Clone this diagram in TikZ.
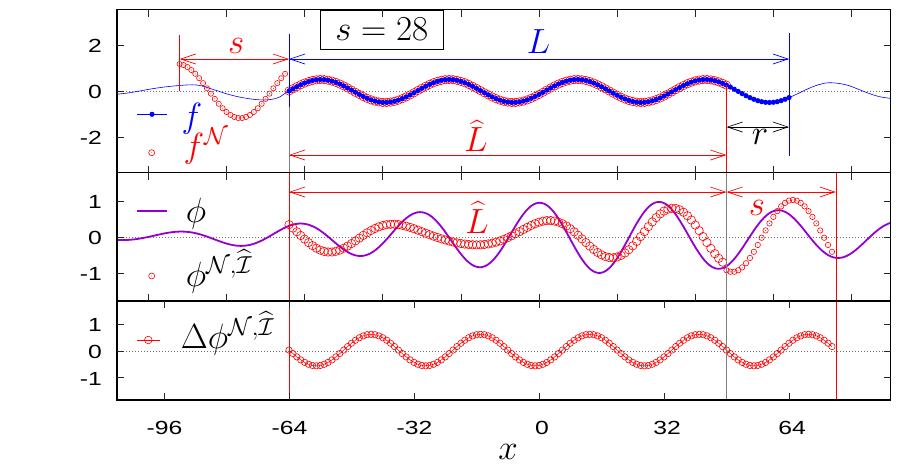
\RequirePackage{fix-cm}
\documentclass[tikz,border=0pt]{standalone}
\usepackage{exscale}
\usepackage{fontspec}
\newfontfamily\helv{Liberation Sans}
\usetikzlibrary{arrows.meta}
\definecolor{fred}{HTML}{FF0000}
\definecolor{fblue}{HTML}{0000FF}
\definecolor{fviolet}{HTML}{9400D3}
\definecolor{fgray}{HTML}{7F7F7F}
\newcommand\ticklab[1]{\scalebox{1.3}[1]{#1}}
\tikzset{
  declare function={
    fin(\x)=0.5*sin(10.97561*(\x+64));
    fnl(\x)=-1.18*cos(11.25*(\x+76.5));
    ph(\x)=exp(-((\x-18)/80)*((\x-18)/80))*cos(11.688312*\x);
    dph(\x)=0.035-0.59*sin(12.857143*(\x+64));
    phs(\x)=0.03+cos(11.612903*(\x-65));
  },
  frameline/.style={line width=1.3pt, black},
  tickline/.style={line width=0.7pt, black!85},
  zeroline/.style={line width=0.6pt, black!55, dash pattern=on 1pt off 2pt},
  dimarrow/.style={line width=0.7pt, {Straight Barb[length=15pt,width=10pt]}-{Straight Barb[length=15pt,width=10pt]}},
  vline/.style={line width=0.7pt},
  lab/.style={inner sep=0pt, anchor=base, font=\fontsize{35}{40}\selectfont},
  ticky/.style={inner sep=0pt, anchor=east, font=\helv\fontsize{19}{22}\selectfont},
  tickx/.style={inner sep=0pt, anchor=center, font=\helv\fontsize{19}{22}\selectfont},
  redcirc/.style={draw=fred, line width=0.6pt},
}
\begin{document}
\begin{tikzpicture}[x=1pt,y=-1pt]
\useasboundingbox (0,0) rectangle (900,469);
\fill[white] (0,0) rectangle (900,469);

% zero lines
\draw[zeroline] (117,91) -- (890.7,91);
\draw[zeroline] (117,237) -- (890.7,237);
\draw[zeroline] (117,351) -- (890.7,351);

% ---------- top panel data ----------
\begin{scope}[shift={(539,91)}, x=3.906pt, y=23pt]
  \draw[fblue, line width=0.6pt] plot[smooth, tension=0.6] coordinates {(-108,-0.14) (-105,-0.08) (-102.9,-0.02) (-97.8,0.13) (-92.7,0.23) (-87.6,0.26) (-83.3,0.06) (-79,-0.17) (-74.8,-0.32) (-70.5,-0.39) (-67.1,-0.31) (-65,-0.1) (-64,0)};
  \draw[fblue, line width=0.6pt] plot[domain=-64:64, samples=200] (\x,{fin(\x)});
  \draw[fblue, line width=0.6pt] plot[smooth, tension=0.6] coordinates {(64,-0.29) (66.2,-0.12) (68.5,0.07) (71.5,0.27) (74.5,0.36) (78.8,0.26) (83.9,-0.07) (87,-0.24) (90,-0.32)};
  \foreach \i in {-92,...,-65} {
    \draw[redcirc] (\i,{fnl(\i)}) circle[radius=2.6pt];
    \fill[fred] (\i,{fnl(\i)}) circle[radius=0.45pt];
  }
  \foreach \i in {-64,...,48} \draw[redcirc] (\i,{fin(\i)}) circle[radius=4.2pt];
  \foreach \i in {-64,...,64} \fill[fblue] (\i,{fin(\i)}) circle[radius=2.6pt];
  \coordinate (f48) at (48,{fin(48)});
\end{scope}

% ---------- middle panel data ----------
\begin{scope}[shift={(539,237)}, x=3.906pt, y=36pt]
  \draw[fviolet, line width=1.8pt] plot[domain=-108:90, samples=300] (\x,{ph(\x)});
  \foreach \i in {-64,...,47} \draw[redcirc] (\i,{ph(\i)+dph(\i)}) circle[radius=4.2pt];
  \foreach \i in {48,...,75} {
    \draw[redcirc] (\i,{phs(\i)}) circle[radius=2.7pt];
    \fill[fred] (\i,{phs(\i)}) circle[radius=0.45pt];
  }
\end{scope}

% ---------- bottom panel data ----------
\begin{scope}[shift={(539,351)}, x=3.906pt, y=26.7pt]
  \draw[fred, line width=0.5pt] plot[domain=-64:75, samples=200] (\x,{dph(\x)});
  \foreach \i in {-64,...,75} \draw[redcirc] (\i,{dph(\i)}) circle[radius=3.2pt];
\end{scope}

% ---------- vertical guide lines ----------
\coordinate (sLt) at (179.65,35);  \coordinate (sLb) at (179.65,91);
\coordinate (m64t) at (289,34);    \coordinate (m64m) at (289,107);
\coordinate (m64b) at (289,172.5); \coordinate (m64e) at (289,400);
\coordinate (p64t) at (789,33);    \coordinate (p64b) at (789,156);
\coordinate (p48b) at (726.5,172.5); \coordinate (p48e) at (726.5,400);
\coordinate (p76t) at (835.9,172.5); \coordinate (p76e) at (835.9,400);
\draw[vline, fred] (sLt) -- (sLb);
\draw[vline, fblue] (m64t) -- (m64m);
\draw[vline, fgray] (m64m) -- (m64b);
\draw[vline, fblue] (p64t) -- (p64b);
\draw[vline, fred] (f48) -- (p48b);
\draw[vline, fred] (m64b) -- (m64e);
\draw[vline, fgray] (p48b) -- (p48e);
\draw[vline, fred] (p76t) -- (p76e);

% ---------- dimension arrows ----------
\coordinate (sa1) at (179.65,59); \coordinate (sa2) at (289,59);
\coordinate (La2) at (789,59);
\coordinate (Lh1) at (289,155);   \coordinate (Lh2) at (726.5,155);
\coordinate (ra1) at (726.5,127); \coordinate (ra2) at (789,127);
\coordinate (Lm1) at (289,192);   \coordinate (Lm2) at (726.5,192);
\coordinate (sm2) at (835.9,192);
\draw[dimarrow, fred] (sa1) -- (sa2);
\draw[dimarrow, fblue] (sa2) -- (La2);
\draw[dimarrow, fred] (Lh1) -- (Lh2);
\draw[dimarrow, black] (ra1) -- (ra2);
\draw[dimarrow, fred] (Lm1) -- (Lm2);
\draw[dimarrow, fred] (Lm2) -- (sm2);

% ---------- labels ----------
\node[lab, text=fred] (labs1) at (236.3,53.3) {$s$};
\node[lab, text=fblue] (labL) at (538.5,53) {$L$};
\node[lab, text=fred] (labLh1) at (476,151.5) {$\widehat{L}$};
\node[lab, text=black] (labr) at (760,144.5) {$r$};
\node[lab, text=fred] (labLh2) at (477,233) {$\widehat{L}$};
\node[lab, text=fred] (labs2) at (757,215) {$s$};
\node[draw=black, line width=0.8pt, fill=white, minimum width=122.7pt, minimum height=39.5pt, inner sep=0pt, anchor=north west, font=\fontsize{35}{40}\selectfont] (sbox) at (320,9.5) {$s=28$};

% ---------- legends ----------
\coordinate (lg1a) at (137,114.3); \coordinate (lg1b) at (167,114.3);
\draw[fblue, line width=0.6pt] (lg1a) -- (lg1b);
\fill[fblue] (152,114.3) circle[radius=2.6pt];
\node[lab, text=fblue] (legf) at (192,127) {$f$};
\draw[redcirc] (151.7,152.7) circle[radius=3pt];
\fill[fred] (151.7,152.7) circle[radius=0.45pt];
\node[lab, text=fred] (legfn) at (206,157) {$f^{\mathcal{N}}$};

\coordinate (lg2a) at (137,210.7); \coordinate (lg2b) at (167,210.7);
\draw[fviolet, line width=1.8pt] (lg2a) -- (lg2b);
\node[lab] (legphi) at (196,222.3) {$\phi$};
\draw[redcirc] (151.7,276) circle[radius=3pt];
\fill[fred] (151.7,276) circle[radius=0.45pt];
\node[lab] (legphin) at (219,286) {$\phi^{\mathcal{N},\widehat{\mathcal{I}}}$};

\coordinate (lg3a) at (136.7,340); \coordinate (lg3b) at (160,340);
\draw[fred, line width=0.6pt] (lg3a) -- (lg3b);
\draw[redcirc] (148.3,340) circle[radius=3.8pt];
\node[lab] (legdphi) at (227.5,348.3) {$\Delta\phi^{\mathcal{N},\widehat{\mathcal{I}}}$};

% ---------- frames ----------
\draw[frameline] (117,9.5) rectangle (890.7,400);
\draw[frameline] (117,172.5) -- (890.7,172.5);
\draw[frameline] (117,301) -- (890.7,301);

% ---------- ticks ----------
\foreach \v in {-100,-80,...,80} {
  \draw[tickline] ({539+3.906*\v},9.5) -- ++(0,7);
  \draw[tickline] ({539+3.906*\v},172.5) -- ++(0,-7);
  \draw[tickline] ({539+3.906*\v},172.5) -- ++(0,7);
  \draw[tickline] ({539+3.906*\v},301) -- ++(0,-7);
}
\foreach \v in {-96,-64,...,64} {
  \draw[tickline] ({539+3.906*\v},301) -- ++(0,7);
  \draw[tickline] ({539+3.906*\v},400) -- ++(0,-7);
}
\foreach \py in {45,91,137,201,237,273,324.3,351,377.7} {
  \draw[tickline] (117,\py) -- ++(7,0);
  \draw[tickline] (890.7,\py) -- ++(-7,0);
}

% ---------- tick labels ----------
\node[ticky] (ty1) at (102,46) {\ticklab{2}};
\node[ticky] (ty2) at (102,92) {\ticklab{0}};
\node[ticky] (ty3) at (102,138) {\ticklab{-2}};
\node[ticky] (ty4) at (102,202) {\ticklab{1}};
\node[ticky] (ty5) at (102,238) {\ticklab{0}};
\node[ticky] (ty6) at (102,274) {\ticklab{-1}};
\node[ticky] (ty7) at (102,325) {\ticklab{1}};
\node[ticky] (ty8) at (102,352) {\ticklab{0}};
\node[ticky] (ty9) at (102,378.7) {\ticklab{-1}};
\node[tickx] (tx1) at (164.5,428) {\ticklab{-96}};
\node[tickx] (tx2) at (289.5,428) {\ticklab{-64}};
\node[tickx] (tx3) at (414.5,428) {\ticklab{-32}};
\node[tickx] (tx4) at (542,428) {\ticklab{0}};
\node[tickx] (tx5) at (667,428) {\ticklab{32}};
\node[tickx] (tx6) at (792,428) {\ticklab{64}};
\node[lab] (xlab) at (508,459) {$x$};
\end{tikzpicture}
\end{document}
